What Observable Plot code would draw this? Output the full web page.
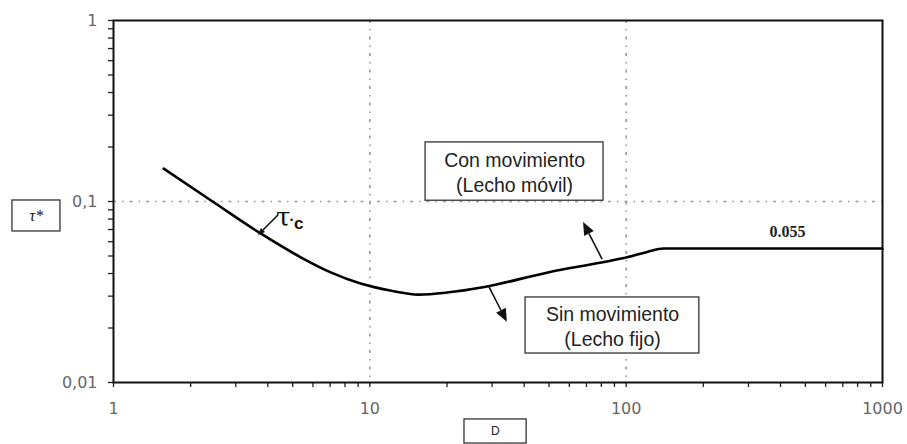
<!DOCTYPE html>
<html><head><meta charset="utf-8">
<script src="https://cdn.jsdelivr.net/npm/d3@7"></script>
<script src="https://cdn.jsdelivr.net/npm/@observablehq/plot@0.6"></script>
<style>
body{margin:0;background:#fff}
</style>
</head><body><div id="chart"></div>
<script>
// Shields curve
const diameters   = [1.57, 2.5, 3.75, 5.4, 7, 9.2, 12, 15.5, 20, 28, 50, 80, 100, 120, 140, 1000];
const tauCritical = [0.152, 0.0975, 0.0666, 0.049, 0.0407, 0.0352, 0.0322, 0.0306, 0.0314, 0.0337, 0.0407, 0.046, 0.049, 0.0525, 0.055, 0.055];

const xMajor = [1, 10, 100, 1000];
const xLabels = ["1", "10", "100", "1000"];
const yMajor = [1, 0.1, 0.01];
const yLabels = ["1", "0,1", "0,01"];
const gridX = [10, 100];
const gridY = [0.1];
const mantissas = [1, 2, 3, 4, 5, 6, 7, 8, 9];
const xDecades = [1, 10, 100];
const yDecades = [0.01, 0.1];

// annotation boxes (data coordinates)
const boxNames = ["con", "sin", "ylab", "xlab"];
const boxX1 = [16.5, 40.5, 0.4035, 23.4];
const boxX2 = [81.6, 193, 0.621, 40.9];
const boxY1 = [0.212, 0.0295, 0.1013, 0.00625];
const boxY2 = [0.101, 0.01446, 0.0683, 0.0046];

const boxTexts = ["Con movimiento\n(Lecho móvil)", "Sin movimiento\n(Lecho fijo)"];
const boxTextX = [36.7, 88.5];
const boxTextY = [0.1465, 0.0206];

// arrows (data coordinates): start -> tip
const arrowX1 = [80.9, 29.3, 4.40];
const arrowY1 = [0.0478, 0.0335, 0.0837];
const arrowX2 = [68.2, 34.4, 3.68];
const arrowY2 = [0.0766, 0.0215, 0.0649];
const arrowHead = [13, 13, 7];

const curve = diameters.map((d, i) => ({D: d, tau: tauCritical[i]}));
const boxes = boxNames.map((n, i) => ({n, x1: boxX1[i], x2: boxX2[i], y1: boxY1[i], y2: boxY2[i]}));
const boxLabels = boxTexts.map((t, i) => ({t, x: boxTextX[i], y: boxTextY[i]}));
const arrows = arrowX1.map((x1, i) => ({x1, y1: arrowY1[i], x2: arrowX2[i], y2: arrowY2[i], h: arrowHead[i]}));

const xTicks = xDecades.flatMap(p => mantissas.map(m => m * p)).concat([1000]);
const yTicks = yDecades.flatMap(p => mantissas.map(m => m * p)).concat([1]);
const xLabelMap = new Map(xMajor.map((v, i) => [v, xLabels[i]]));
const yLabelMap = new Map(yMajor.map((v, i) => [v, yLabels[i]]));

function arrowMark(list) {
  return (index, scales) => {
    const g = d3.create("svg:g");
    for (const a of list) {
      const x1 = scales.x(a.x1), y1 = scales.y(a.y1), x2 = scales.x(a.x2), y2 = scales.y(a.y2);
      const ang = Math.atan2(y2 - y1, x2 - x1);
      const hl = a.h, hw = a.h * 0.42;
      const bx = x2 - hl * Math.cos(ang), by = y2 - hl * Math.sin(ang);
      g.append("line").attr("x1", x1).attr("y1", y1).attr("x2", bx).attr("y2", by)
        .attr("stroke", "#111").attr("stroke-width", 1.6);
      g.append("path")
        .attr("d", `M${x2},${y2}L${bx + hw * Math.sin(ang)},${by - hw * Math.cos(ang)}L${bx - hw * Math.sin(ang)},${by + hw * Math.cos(ang)}Z`)
        .attr("fill", "#111");
    }
    return g.node();
  };
}

const chart = Plot.plot({
  width: 907,
  height: 444,
  marginLeft: 113,
  marginRight: 25,
  marginTop: 20,
  marginBottom: 62,
  style: {background: "#fff", fontFamily: "DejaVu Sans", overflow: "visible"},
  x: {type: "log", domain: [1, 1000]},
  y: {type: "log", domain: [0.01, 1]},
  marks: [
    Plot.ruleX(gridX, {stroke: "#999", strokeWidth: 1.6, strokeDasharray: "3,6,1.5,6"}),
    Plot.ruleY(gridY, {stroke: "#999", strokeWidth: 1.6, strokeDasharray: "3,6,1.5,6"}),
    Plot.axisX({ticks: xTicks, tickSize: 5, tickPadding: 15, tickFormat: d => xLabelMap.get(d) ?? "", stroke: "#222", strokeWidth: 1.3, label: null}),
    Plot.axisY({ticks: yTicks, tickSize: 5, tickPadding: 11, tickFormat: d => yLabelMap.get(d) ?? "", stroke: "#222", strokeWidth: 1.3, label: null}),
    Plot.frame({stroke: "#111", strokeWidth: 2}),
    Plot.rect(boxes, {x1: "x1", x2: "x2", y1: "y1", y2: "y2", fill: "#fff", stroke: "#333", strokeWidth: 1.3}),
    Plot.line(curve, {x: "D", y: "tau", stroke: "#000", strokeWidth: 2.6, curve: "monotone-x"}),
    Plot.text(boxLabels, {x: "x", y: "y", text: "t", fontSize: 19.5, fontFamily: "Liberation Sans", fill: "#222", lineHeight: 1.28}),
    Plot.text(["0.055"], {x: () => 426, y: () => 0.0683, text: d => d, fontFamily: "Liberation Serif", fontWeight: "bold", fontSize: 16, fill: "#222"}),
    Plot.text(["τ"], {x: () => 4.3, y: () => 0.0815, text: d => d, textAnchor: "start", fontFamily: "DejaVu Serif", fontSize: 26, fill: "#111"}),
    Plot.text(["•"], {x: () => 4.3, y: () => 0.0815, text: d => d, textAnchor: "start", dx: 14, dy: 3, fontFamily: "Liberation Sans", fontSize: 9, fill: "#111"}),
    Plot.text(["c"], {x: () => 4.3, y: () => 0.0815, text: d => d, textAnchor: "start", dx: 18, dy: 6, fontFamily: "Liberation Sans", fontWeight: "bold", fontSize: 17, fill: "#111"}),
    Plot.text(["τ*"], {x: () => 0.5, y: () => 0.0832, text: d => d, fontFamily: "Liberation Serif", fontStyle: "italic", fontSize: 16, fill: "#111"}),
    Plot.text(["D"], {x: () => 30.9, y: () => 0.0054, text: d => d, fontFamily: "Liberation Sans", fontSize: 12, fill: "#222"}),
    arrowMark(arrows)
  ]
});
chart.querySelectorAll('[aria-label*="axis"] text').forEach(t => {
  t.style.fontSize = "16px";
  t.style.fontFamily = "DejaVu Sans";
  t.style.fill = "#666";
});
document.getElementById("chart").append(chart);
</script>
</body></html>
